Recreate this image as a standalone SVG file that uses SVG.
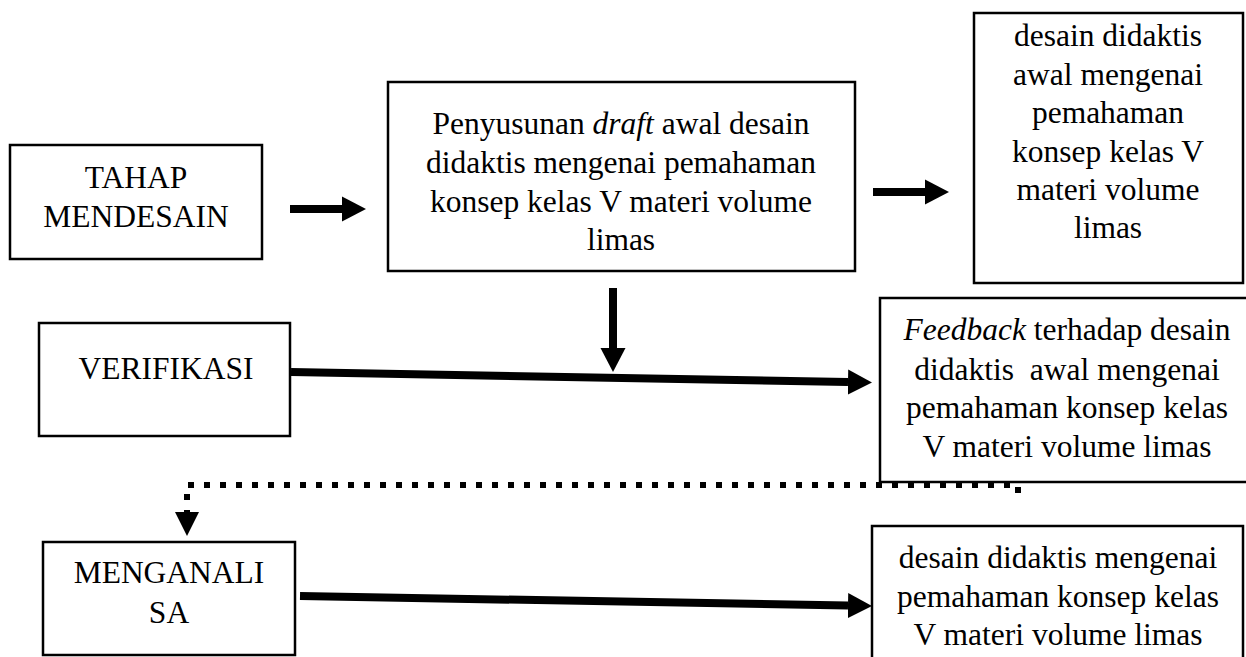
<svg xmlns="http://www.w3.org/2000/svg" width="1246" height="657" viewBox="0 0 1246 657">
<style>
.box{fill:#fff;stroke:#000;stroke-width:2.5}
.t{font-family:"Liberation Serif","Times New Roman",serif;font-size:31.5px;fill:#000;text-anchor:middle}
.sh{stroke:#000;stroke-width:8;fill:none}
.dot{stroke:#000;stroke-width:6;fill:none;stroke-dasharray:6 10}
.hd{fill:#000}
</style>
<defs>
<marker id="ah" markerUnits="userSpaceOnUse" markerWidth="24" markerHeight="26" refX="0" refY="12.5" orient="auto" viewBox="0 0 24 25">
<path d="M0,0 L24,12.5 L0,25 z" fill="#000"/>
</marker>
</defs>
<rect width="1246" height="657" fill="#fff"/>
<g id="n-tahap">
<rect class="box" x="10" y="145" width="252" height="114"/>
<text class="t" x="136" y="188">TAHAP</text>
<text class="t" x="136" y="227">MENDESAIN</text>
</g>
<g id="n-draft">
<rect class="box" x="388" y="82" width="467" height="189"/>
<text class="t" x="621" y="134">Penyusunan <tspan font-style="italic">draft</tspan> awal desain</text>
<text class="t" x="621" y="173">didaktis mengenai pemahaman</text>
<text class="t" x="621" y="212">konsep kelas V materi volume</text>
<text class="t" x="621" y="250">limas</text>
</g>
<g id="n-awal">
<rect class="box" x="974" y="13" width="269" height="270"/>
<text class="t" x="1108" y="46">desain didaktis</text>
<text class="t" x="1108" y="85">awal mengenai</text>
<text class="t" x="1108" y="123">pemahaman</text>
<text class="t" x="1108" y="162">konsep kelas V</text>
<text class="t" x="1108" y="200">materi volume</text>
<text class="t" x="1108" y="238">limas</text>
</g>
<g id="n-verifikasi">
<rect class="box" x="39" y="323" width="251" height="113"/>
<text class="t" x="166" y="379">VERIFIKASI</text>
</g>
<g id="n-feedback">
<rect class="box" x="880" y="298" width="380" height="184"/>
<text class="t" x="1067" y="340"><tspan font-style="italic">Feedback</tspan> terhadap desain</text>
<text class="t" x="1067" y="380" xml:space="preserve">didaktis  awal mengenai</text>
<text class="t" x="1067" y="418">pemahaman konsep kelas</text>
<text class="t" x="1067" y="457">V materi volume limas</text>
</g>
<g id="n-menganalisa">
<rect class="box" x="43" y="542" width="252" height="113"/>
<text class="t" x="169" y="583">MENGANALI</text>
<text class="t" x="169" y="623">SA</text>
</g>
<g id="n-final">
<rect class="box" x="872" y="526" width="371" height="150"/>
<text class="t" x="1058" y="568">desain didaktis mengenai</text>
<text class="t" x="1058" y="607">pemahaman konsep kelas</text>
<text class="t" x="1058" y="645">V materi volume limas</text>
</g>
<g id="connectors">
<line class="sh" x1="290" y1="209" x2="342" y2="209" marker-end="url(#ah)"/>
<line class="sh" x1="873" y1="192" x2="925" y2="192" marker-end="url(#ah)"/>
<line class="sh" x1="613" y1="288" x2="613" y2="348" marker-end="url(#ah)"/>
<line class="sh" x1="291" y1="372" x2="848" y2="382" marker-end="url(#ah)"/>
<line class="sh" x1="300" y1="596" x2="848" y2="605.5" marker-end="url(#ah)"/>
<path class="dot" d="M1018,493 L1018,485 L187,485 L187,512"/>
<polygon class="hd" points="175,512 199,512 187,536"/>
</g>
</svg>
